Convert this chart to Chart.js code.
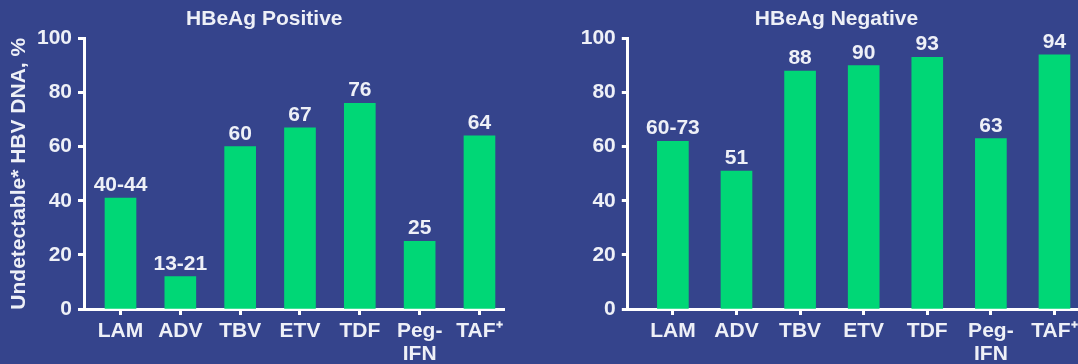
<!DOCTYPE html>
<html>
<head>
<meta charset="utf-8">
<script src="https://cdn.jsdelivr.net/npm/chart.js@4.4.1/dist/chart.umd.min.js"></script>
<style>
  html, body { margin: 0; padding: 0; background: #35448c; width: 1078px; height: 364px; overflow: hidden; }
  canvas { position: absolute; top: 0; }
  #positive { left: 0; }
  #negative { left: 540px; }
</style>
</head>
<body>
<canvas id="positive" width="540" height="364"></canvas>
<canvas id="negative" width="563" height="364"></canvas>
<script>
// Treatments on the x axis (Peg-IFN wraps onto two lines)
const categories = ['LAM', 'ADV', 'TBV', 'ETV', 'TDF', ['Peg-', 'IFN'], 'TAF\u207A'];

// HBeAg-positive patients: bar heights and printed labels
const positiveValues = [41, 12, 60, 67, 76, 25, 64];
const positiveLabels = ['40-44', '13-21', '60', '67', '76', '25', '64'];

// HBeAg-negative patients: bar heights and printed labels
const negativeValues = [62, 51, 88, 90, 93, 63, 94];
const negativeLabels = ['60-73', '51', '88', '90', '93', '63', '94'];

// Percent axis ticks
const yTicks = [0, 20, 40, 60, 80, 100];

const TEXT = '#eef0f7';
const AXIS = '#ffffff';
const BAR = '#00d776';
const FAMILY = '"Liberation Sans", Arial, Helvetica, sans-serif';
const FONT = { family: FAMILY, size: 21, weight: 'bold', lineHeight: 1.2 };
const TICK_FONT = { family: FAMILY, size: 21, weight: 'bold', lineHeight: 1.1 };

// Writes each bar's label just above its top
const valueLabels = {
  id: 'valueLabels',
  afterDatasetsDraw(chart, args, opts) {
    const ctx = chart.ctx;
    const meta = chart.getDatasetMeta(0);
    ctx.save();
    ctx.font = 'bold 21px ' + FAMILY;
    ctx.fillStyle = TEXT;
    ctx.textAlign = 'center';
    ctx.textBaseline = 'alphabetic';
    meta.data.forEach((bar, i) => ctx.fillText(opts.labels[i], bar.x, bar.y - 7));
    ctx.restore();
  }
};

function axisLines() {
  return {
    grid: { offset: false, drawOnChartArea: false, drawTicks: true, tickLength: 6, tickWidth: 3, tickColor: AXIS },
    border: { display: true, color: AXIS, width: 3 }
  };
}

function drawPanel(id, cfg) {
  return new Chart(document.getElementById(id), {
    type: 'bar',
    data: {
      datasets: [{
        data: cfg.values.map((v, i) => ({ x: i, y: v })),
        backgroundColor: BAR,
        borderWidth: 0,
        barThickness: 31
      }]
    },
    options: {
      responsive: false,
      animation: false,
      devicePixelRatio: 1,
      layout: { padding: cfg.padding },
      plugins: {
        legend: { display: false },
        tooltip: { enabled: false },
        title: {
          display: true,
          text: cfg.title,
          color: TEXT,
          font: FONT,
          padding: { top: 6.4, bottom: 6.9 }
        },
        valueLabels: { labels: cfg.labels }
      },
      scales: {
        x: Object.assign({
          type: 'linear',
          offset: false,
          min: cfg.xMin,
          max: cfg.xMax,
          afterBuildTicks: s => { s.ticks = categories.map((c, i) => ({ value: i })); },
          afterFit: s => { s.height = 55; s.paddingLeft = 0; s.paddingRight = 0; },
          ticks: {
            callback: v => categories[v],
            color: TEXT,
            font: TICK_FONT,
            padding: 4.6,
            autoSkip: false,
            maxRotation: 0,
            minRotation: 0
          }
        }, axisLines()),
        y: Object.assign({
          min: 0,
          max: 100,
          afterBuildTicks: s => { s.ticks = yTicks.map(v => ({ value: v })); },
          afterFit: s => { s.width = cfg.yWidth; },
          ticks: { color: TEXT, font: TICK_FONT, padding: 6 },
          title: cfg.yTitle
            ? { display: true, text: cfg.yTitle, color: TEXT, font: FONT, padding: { top: -17.1, bottom: 0 } }
            : { display: false }
        }, axisLines())
      }
    },
    plugins: [valueLabels]
  });
}

drawPanel('positive', {
  title: 'HBeAg Positive',
  yTitle: 'Undetectable* HBV DNA, %',
  values: positiveValues,
  labels: positiveLabels,
  padding: { left: 24, right: 35.4, top: 0, bottom: 0 },
  yWidth: 60,
  xMin: -0.61,
  xMax: 6.42
});

drawPanel('negative', {
  title: 'HBeAg Negative',
  yTitle: null,
  values: negativeValues,
  labels: negativeLabels,
  padding: { left: 30, right: 0, top: 0, bottom: 0 },
  yWidth: 57.8,
  xMin: -0.709,
  xMax: 6.763
});
</script>
</body>
</html>
